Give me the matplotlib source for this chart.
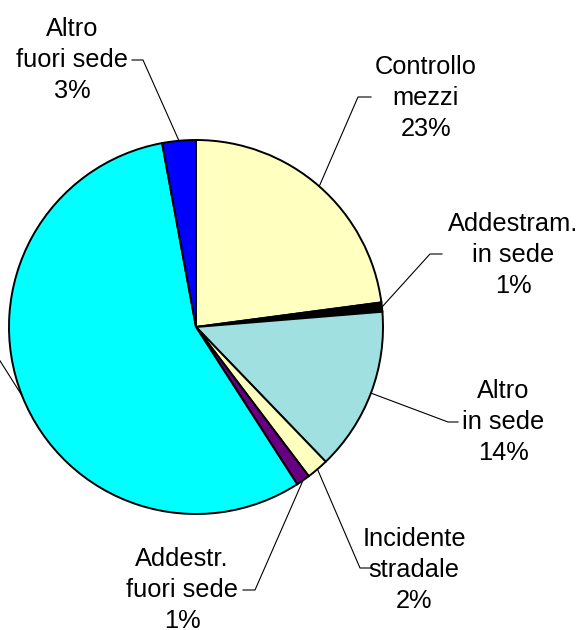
import matplotlib
matplotlib.use("Agg")
import matplotlib.pyplot as plt
import numpy as np

plt.rcParams['font.family'] = ['Liberation Sans', 'DejaVu Sans']

# slice data (clockwise from 12 o'clock)
labels = ['Controllo\nmezzi', 'Addestram.\nin sede', 'Altro\nin sede', 'Incidente\nstradale',
          'Addestr.\nfuori sede', '', 'Altro\nfuori sede']
values = [22.9, 0.8, 14.1, 1.9, 1.2, 56.2, 2.9]
colors = ['#FFFFC0', '#000000', '#A0E0E0', '#FFFFC0', '#660080', '#00FFFF', '#0000FF']

# label layout in pixel coords (y from top): text centre, knee of leader, side of text
label_pos = [(426, 98), (513, 255), (503, 422), (414, 570), (182, 590), (None, None), (72, 60)]
knee_pos = [(358, 97), (430, 254), (448, 422), (360, 568), (255, 590), (-10, 345), (143, 60)]
text_end = [(371, 97), (442, 254), (458, 422), (372, 568), (243, 590), None, (132, 60)]

W, H = 581, 630
cx, cy, r = 196, 327, 187

fig = plt.figure(figsize=(W / 100, H / 100), dpi=100)
ax = fig.add_axes([0, 0, 1, 1])
ax.set_xlim(0, W)
ax.set_ylim(0, H)
ax.set_aspect('equal')
ax.axis('off')

wedges, _ = ax.pie(values, colors=colors, startangle=90, counterclock=False,
                   center=(cx, H - cy), radius=r,
                   wedgeprops=dict(edgecolor='black', linewidth=1.4))
ax.set_xlim(0, W)
ax.set_ylim(0, H)

for w, lab, v, lp, kp, te in zip(wedges, labels, values, label_pos, knee_pos, text_end):
    mid = np.deg2rad((w.theta1 + w.theta2) / 2)
    px = cx + r * np.cos(mid)
    py = (H - cy) + r * np.sin(mid)
    xs = [px, kp[0]]
    ys = [py, H - kp[1]]
    if te is not None:
        xs.append(te[0])
        ys.append(H - te[1])
    ax.plot(xs, ys, color='black', linewidth=0.8, clip_on=False)
    if lp[0] is not None:
        ax.text(lp[0], H - lp[1], f"{lab}\n{round(v)}%", ha='center', va='center',
                multialignment='center', fontsize=18.3, linespacing=1.38, color='black')

fig.savefig('out.png', dpi=100)
